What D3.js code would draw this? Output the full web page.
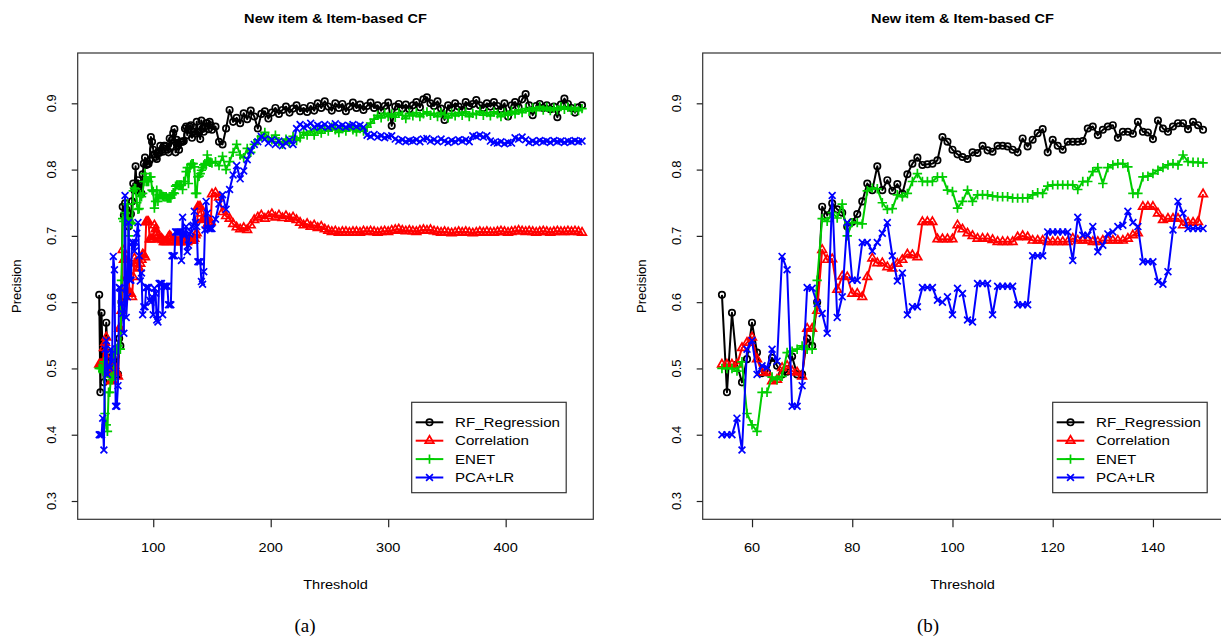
<!doctype html>
<html>
<head>
<meta charset="UTF-8" />
<script src="https://cdn.jsdelivr.net/npm/d3@7"></script>
<style>
  body { margin: 0; background: #fff; }
  svg { display: block; font-family: "Liberation Sans", Arial, sans-serif; }
</style>
</head>
<body>
<svg id="chart" width="1221" height="640"></svg>
<script>
// thresholds 54..150, one step each (shown in both panels)
const thrHead = d3.range(54, 151);
// thresholds 153..465 every 3 (only panel a reaches this far)
const thrTail = d3.range(153, 466, 3);

const seriesNames = ["RF_Regression", "Correlation", "ENET", "PCA+LR"];

const rfHead = [
  0.611,0.464,0.584,0.506,0.479,0.514,0.569,0.524,0.493,0.494,
  0.516,0.504,0.491,0.495,0.518,0.491,0.491,0.545,0.534,0.600,
  0.744,0.731,0.749,0.740,0.735,0.714,0.721,0.733,0.752,0.779,
  0.769,0.805,0.769,0.784,0.768,0.778,0.764,0.793,0.809,0.818,
  0.807,0.808,0.809,0.814,0.849,0.842,0.830,0.823,0.819,0.816,
  0.826,0.825,0.836,0.829,0.827,0.836,0.836,0.835,0.830,0.826,
  0.847,0.835,0.845,0.855,0.861,0.826,0.845,0.836,0.830,0.842,
  0.842,0.842,0.843,0.862,0.865,0.852,0.860,0.865,0.867,0.848,
  0.857,0.857,0.854,0.872,0.857,0.856,0.846,0.874,0.862,0.857,
  0.865,0.870,0.870,0.861,0.872,0.867,0.860];
const corHead = [
  0.506,0.506,0.506,0.506,0.531,0.539,0.547,0.514,0.494,0.494,
  0.481,0.483,0.501,0.504,0.496,0.494,0.488,0.560,0.560,0.587,
  0.679,0.664,0.665,0.619,0.639,0.638,0.613,0.613,0.608,0.638,
  0.666,0.659,0.659,0.653,0.651,0.658,0.664,0.672,0.671,0.668,
  0.721,0.721,0.721,0.695,0.695,0.695,0.695,0.716,0.710,0.704,
  0.700,0.696,0.696,0.696,0.694,0.691,0.691,0.691,0.691,0.698,
  0.700,0.698,0.693,0.693,0.693,0.691,0.691,0.691,0.691,0.691,
  0.696,0.693,0.693,0.693,0.691,0.691,0.693,0.693,0.693,0.693,
  0.693,0.696,0.701,0.704,0.744,0.744,0.744,0.734,0.724,0.726,
  0.726,0.726,0.716,0.720,0.720,0.721,0.763];
const enetHead = [
  0.500,0.500,0.500,0.496,0.510,0.432,0.415,0.405,0.464,0.464,
  0.487,0.483,0.488,0.524,0.526,0.529,0.534,0.529,0.529,0.633,
  0.726,0.722,0.735,0.727,0.748,0.700,0.720,0.720,0.718,0.768,
  0.772,0.771,0.750,0.740,0.741,0.762,0.759,0.764,0.782,0.794,
  0.782,0.782,0.782,0.789,0.789,0.769,0.767,0.742,0.752,0.769,
  0.752,0.762,0.762,0.762,0.760,0.759,0.759,0.759,0.757,0.757,
  0.757,0.757,0.762,0.765,0.764,0.775,0.777,0.777,0.777,0.777,
  0.777,0.770,0.782,0.782,0.797,0.803,0.779,0.803,0.807,0.809,
  0.809,0.804,0.764,0.764,0.789,0.790,0.794,0.799,0.803,0.807,
  0.809,0.807,0.822,0.812,0.811,0.811,0.810];
const pcaHead = [
  0.400,0.400,0.400,0.425,0.377,0.529,0.542,0.491,0.504,0.501,
  0.529,0.511,0.669,0.649,0.443,0.443,0.474,0.622,0.621,0.598,
  0.583,0.553,0.761,0.577,0.608,0.720,0.633,0.633,0.690,0.690,
  0.677,0.690,0.704,0.720,0.670,0.632,0.644,0.581,0.593,0.593,
  0.622,0.622,0.622,0.603,0.600,0.608,0.581,0.621,0.613,0.573,
  0.570,0.628,0.628,0.628,0.581,0.624,0.624,0.624,0.624,0.596,
  0.596,0.596,0.670,0.670,0.670,0.706,0.706,0.706,0.706,0.706,
  0.663,0.728,0.701,0.701,0.714,0.676,0.686,0.703,0.706,0.714,
  0.716,0.737,0.720,0.714,0.661,0.661,0.661,0.631,0.627,0.646,
  0.709,0.752,0.734,0.711,0.711,0.711,0.711];

const rfTail = [
  0.865,0.842,0.838,0.862,0.890,0.872,0.878,0.870,0.885,0.876,
  0.889,0.880,0.862,0.884,0.888,0.877,0.886,0.893,0.884,0.890,
  0.895,0.886,0.892,0.897,0.888,0.893,0.887,0.896,0.889,0.900,
  0.893,0.903,0.895,0.889,0.900,0.893,0.899,0.888,0.895,0.901,
  0.893,0.898,0.890,0.896,0.901,0.893,0.897,0.889,0.896,0.901,
  0.866,0.895,0.899,0.892,0.898,0.891,0.897,0.902,0.894,0.906,
  0.909,0.900,0.896,0.903,0.892,0.875,0.897,0.893,0.900,0.895,
  0.890,0.902,0.896,0.899,0.905,0.897,0.893,0.900,0.895,0.902,
  0.896,0.891,0.900,0.880,0.897,0.902,0.894,0.906,0.914,0.897,
  0.882,0.896,0.899,0.893,0.897,0.891,0.895,0.879,0.898,0.907,
  0.899,0.893,0.886,0.894,0.897];
const corTail = [
  0.765,0.758,0.736,0.730,0.726,0.718,0.713,0.710,0.712,0.709,
  0.716,0.724,0.728,0.731,0.726,0.730,0.733,0.728,0.731,0.727,
  0.730,0.726,0.728,0.724,0.720,0.716,0.718,0.714,0.716,0.712,
  0.714,0.710,0.708,0.706,0.707,0.705,0.706,0.706,0.705,0.706,
  0.706,0.705,0.707,0.706,0.707,0.706,0.705,0.706,0.707,0.706,
  0.708,0.709,0.710,0.708,0.707,0.708,0.707,0.706,0.708,0.709,
  0.708,0.709,0.707,0.706,0.705,0.706,0.705,0.704,0.705,0.706,
  0.705,0.706,0.705,0.704,0.705,0.706,0.705,0.706,0.705,0.705,
  0.706,0.707,0.706,0.705,0.706,0.707,0.708,0.707,0.706,0.707,
  0.706,0.705,0.706,0.707,0.706,0.705,0.706,0.707,0.706,0.706,
  0.707,0.706,0.707,0.706,0.705];
const enetTail = [
  0.812,0.806,0.820,0.800,0.812,0.826,0.838,0.822,0.818,0.832,
  0.826,0.838,0.845,0.850,0.856,0.848,0.845,0.852,0.842,0.838,
  0.846,0.840,0.850,0.844,0.848,0.856,0.852,0.858,0.852,0.860,
  0.855,0.862,0.858,0.864,0.860,0.856,0.862,0.858,0.864,0.860,
  0.857,0.862,0.858,0.864,0.870,0.876,0.882,0.878,0.885,0.880,
  0.884,0.879,0.886,0.882,0.877,0.885,0.881,0.886,0.880,0.884,
  0.887,0.882,0.885,0.880,0.886,0.883,0.878,0.885,0.881,0.886,
  0.882,0.887,0.880,0.885,0.883,0.888,0.882,0.886,0.881,0.887,
  0.884,0.880,0.886,0.882,0.888,0.884,0.890,0.886,0.892,0.888,
  0.893,0.889,0.895,0.890,0.894,0.889,0.893,0.890,0.895,0.891,
  0.894,0.890,0.893,0.889,0.892];
const pcaTail = [
  0.725,0.748,0.762,0.740,0.770,0.792,0.806,0.786,0.798,0.815,
  0.828,0.838,0.842,0.850,0.846,0.840,0.845,0.838,0.843,0.836,
  0.840,0.845,0.838,0.862,0.868,0.864,0.866,0.870,0.864,0.867,
  0.865,0.868,0.864,0.866,0.869,0.865,0.867,0.864,0.866,0.868,
  0.865,0.867,0.864,0.852,0.850,0.853,0.849,0.851,0.848,0.850,
  0.851,0.846,0.843,0.845,0.842,0.844,0.843,0.845,0.842,0.846,
  0.847,0.843,0.845,0.842,0.846,0.843,0.841,0.844,0.842,0.845,
  0.843,0.845,0.842,0.851,0.850,0.852,0.849,0.851,0.843,0.841,
  0.840,0.842,0.839,0.841,0.840,0.848,0.846,0.849,0.845,0.841,
  0.843,0.841,0.844,0.842,0.843,0.841,0.844,0.842,0.843,0.841,
  0.843,0.842,0.844,0.842,0.843];

const yTicks = [0.3, 0.4, 0.5, 0.6, 0.7, 0.8, 0.9];
const xTicksA = [100, 200, 300, 400];
const xTicksB = [60, 80, 100, 120, 140];

const titleText = "New item & Item-based CF";

// ---- styling / layout ----
const colors = ["#000000", "#ff0000", "#00cd00", "#0000ff"];
const shapes = ["circle", "triangle", "plus", "cross"];
const SX = 1.12;            // the figure is slightly stretched sideways
const plotTop = 53, plotBottom = 519.3;
const ylim = [0.2724, 0.9759];

const panels = [
  { left: 77.7, right: 593.3, xlim: [35.7, 474.6], xTicks: xTicksA, tail: true,
    legendX: 411.7, tag: "(a)", tagX: 305 },
  { left: 702.7, right: 1222.3, xlim: [50.16, 153.84], xTicks: xTicksB, tail: false,
    legendX: 1052.7, tag: "(b)", tagX: 928 }
];

const svg = d3.select("#chart");

function shapePath(s) {
  if (s === "circle") return "M3.2,0A3.2,3.2 0 1,1 -3.2,0A3.2,3.2 0 1,1 3.2,0Z";
  if (s === "triangle") return "M0,-4.9L4.3,2.5L-4.3,2.5Z";
  if (s === "plus") return "M-4.7,0H4.7M0,-4.7V4.7";
  return "M-3.4,-3.4L3.4,3.4M-3.4,3.4L3.4,-3.4";
}

function hText(g, x, y, str, size, anchor) {
  return g.append("text")
    .attr("transform", `translate(${x},${y}) scale(${SX},1)`)
    .attr("text-anchor", anchor || "middle")
    .attr("font-size", size)
    .attr("fill", "#000")
    .text(str);
}

panels.forEach(function (p) {
  const g = svg.append("g");

  const x = d3.scaleLinear().domain(p.xlim).range([p.left, p.right]);
  const y = d3.scaleLinear().domain(ylim).range([plotBottom, plotTop]);

  // series
  const heads = [rfHead, corHead, enetHead, pcaHead];
  const tails = [rfTail, corTail, enetTail, pcaTail];

  heads.forEach(function (h, i) {
    let pts = thrHead.map((t, j) => ({ t: t, v: h[j] }));
    if (p.tail) pts = pts.concat(thrTail.map((t, j) => ({ t: t, v: tails[i][j] })));

    const line = d3.line().x(d => x(d.t)).y(d => y(d.v));
    g.append("path")
      .datum(pts)
      .attr("d", line)
      .attr("fill", "none")
      .attr("stroke", colors[i])
      .attr("stroke-width", 2)
      .attr("stroke-linejoin", "round");

    g.append("g").selectAll("path")
      .data(pts)
      .enter().append("path")
      .attr("transform", d => `translate(${x(d.t)},${y(d.v)})`)
      .attr("d", shapePath(shapes[i]))
      .attr("fill", "none")
      .attr("stroke", colors[i])
      .attr("stroke-width", 1.7);
  });

  // frame
  g.append("rect")
    .attr("x", p.left).attr("y", plotTop)
    .attr("width", p.right - p.left).attr("height", plotBottom - plotTop)
    .attr("fill", "none").attr("stroke", "#333").attr("stroke-width", 1.2);

  // x axis
  const xAxis = d3.axisBottom(x).tickValues(p.xTicks).tickSize(8).tickSizeOuter(0).tickFormat(d3.format("d"));
  const xa = g.append("g").attr("transform", `translate(0,${plotBottom})`).call(xAxis);
  xa.select(".domain").remove();
  xa.selectAll(".tick line").attr("stroke", "#222").attr("stroke-width", 1.2);
  xa.selectAll(".tick text").remove();
  p.xTicks.forEach(t => hText(g, x(t), 551.5, String(t), 13));

  // y axis
  const yAxis = d3.axisLeft(y).tickValues(yTicks).tickSize(6).tickSizeOuter(0);
  const ya = g.append("g").attr("transform", `translate(${p.left},0)`).call(yAxis);
  ya.select(".domain").remove();
  ya.selectAll(".tick line").attr("stroke", "#222").attr("stroke-width", 1.2);
  ya.selectAll(".tick text").remove();
  yTicks.forEach(function (v) {
    g.append("text")
      .attr("transform", `translate(${p.left - 21.5},${y(v)}) rotate(-90)`)
      .attr("text-anchor", "middle")
      .attr("font-size", 13)
      .text(d3.format(".1f")(v));
  });

  // titles
  const cx = (p.left + p.right) / 2;
  hText(g, cx, 23, titleText, 13).attr("font-weight", "bold");
  hText(g, cx, 588.5, "Threshold", 13);
  g.append("text")
    .attr("transform", `translate(${p.left - 56.5},${(plotTop + plotBottom) / 2}) rotate(-90)`)
    .attr("text-anchor", "middle")
    .attr("font-size", 13)
    .text("Precision");

  g.append("text")
    .attr("x", p.tagX).attr("y", 632)
    .attr("text-anchor", "middle")
    .attr("font-family", "'Liberation Serif', 'Times New Roman', serif")
    .attr("font-size", 19)
    .text(p.tag);

  // legend
  const lg = g.append("g").attr("transform", `translate(${p.legendX},402.3)`);
  lg.append("rect")
    .attr("width", 154.5).attr("height", 90.4)
    .attr("fill", "#fff").attr("stroke", "#333").attr("stroke-width", 1.2);
  seriesNames.forEach(function (name, i) {
    const ry = 20 + i * 18.4;
    lg.append("line")
      .attr("x1", 4).attr("x2", 31.6).attr("y1", ry).attr("y2", ry)
      .attr("stroke", colors[i]).attr("stroke-width", 2);
    lg.append("path")
      .attr("transform", `translate(17.8,${ry})`)
      .attr("d", shapePath(shapes[i]))
      .attr("fill", "none").attr("stroke", colors[i]).attr("stroke-width", 1.7);
    hText(lg, 43.3, ry + 4.7, name, 13.5, "start");
  });
});
</script>
</body>
</html>
